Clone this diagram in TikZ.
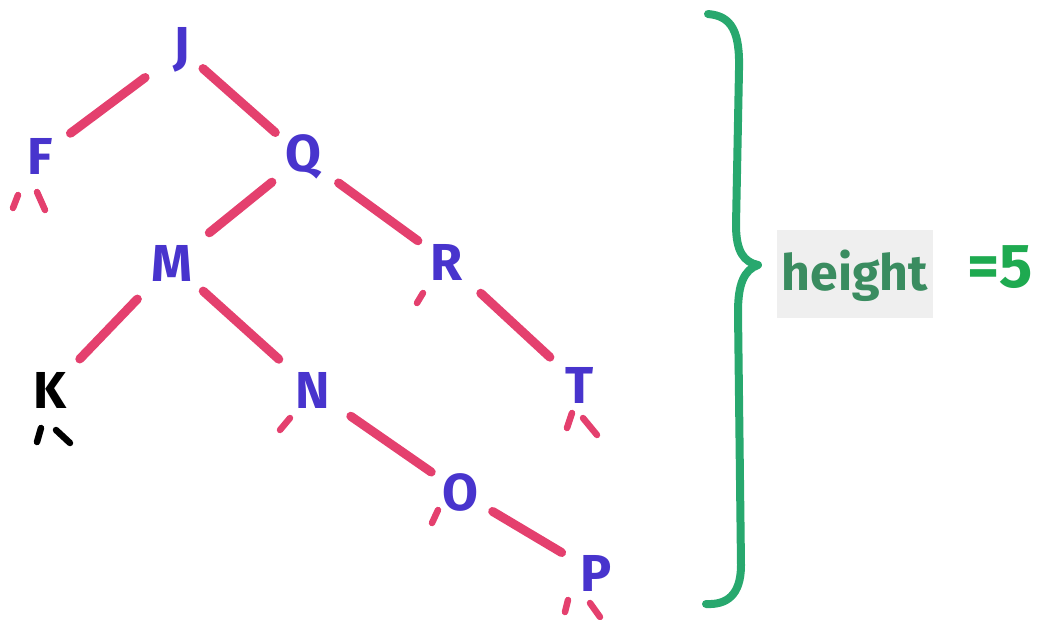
\documentclass[tikz,border=0pt]{standalone}
\usepackage{fontspec}
\setmainfont{Fira Sans}
\definecolor{nodeblue}{RGB}{72,52,205}
\definecolor{edgepink}{RGB}{228,64,110}
\definecolor{bracegreen}{RGB}{40,168,110}
\definecolor{htgreen}{RGB}{58,140,96}
\definecolor{eqgreen}{RGB}{30,170,80}
\definecolor{boxgray}{RGB}{239,239,239}
\tikzset{
  tnode/.style={font=\fontsize{52}{52}\selectfont\bfseries, text=nodeblue, inner sep=0pt},
  edge/.style={draw=edgepink, line width=9pt, line cap=round, shorten <=42pt, shorten >=40pt},
  stub/.style={draw=edgepink, line width=6.5pt, line cap=round},
  kstub/.style={draw=black, line width=6.5pt, line cap=round},
}
\begin{document}
\begin{tikzpicture}[x=1pt,y=-1pt]
\useasboundingbox (0,0) rectangle (1050,619);
% nodes
\node[tnode] (J) at (182,50) {J};
\node[tnode] (F) at (40,156) {F};
\node[tnode] (Q) at (303,157) {Q};
\node[tnode] (M) at (172,263) {M};
\node[tnode] (R) at (447,262) {R};
\node[tnode, text=black] (K) at (50,390) {K};
\node[tnode] (N) at (313,390) {N};
\node[tnode] (T) at (580,385) {T};
\node[tnode] (O) at (460,492) {O};
\node[tnode] (P) at (596,573) {P};
% edges
\draw[edge, shorten <=46pt, shorten >=38pt] (J.center) -- (F.center);
\draw[edge, shorten <=28pt, shorten >=37pt] (J.center) -- (Q.center);
\draw[edge, shorten <=40pt, shorten >=48pt] (Q.center) -- (M.center);
\draw[edge, shorten <=44pt, shorten >=36pt] (Q.center) -- (R.center);
\draw[edge, shorten <=50pt, shorten >=43pt] (M.center) -- (K.center);
\draw[edge, shorten <=42pt, shorten >=46pt] (M.center) -- (N.center);
\draw[edge, shorten <=46pt, shorten >=35pt] (N.center) -- (O.center);
\draw[edge, shorten <=46pt, shorten >=41pt] (R.center) -- (T.center);
\draw[edge, shorten <=38pt, shorten >=40pt] (O.center) -- (P.center);
% null-child stubs
\draw[stub] ([shift={(-22,39)}]F.center) -- ([shift={(-27,52)}]F.center);
\draw[stub] ([shift={(-3,36)}]F.center) -- ([shift={(5,54)}]F.center);
\draw[kstub] ([shift={(-9,38)}]K.center) -- ([shift={(-13,52)}]K.center);
\draw[kstub] ([shift={(6,40)}]K.center) -- ([shift={(20,53)}]K.center);
\draw[stub] ([shift={(-23,28)}]N.center) -- ([shift={(-33,40)}]N.center);
\draw[stub] ([shift={(-24,31)}]R.center) -- ([shift={(-30,41)}]R.center);
\draw[stub] ([shift={(-8,28)}]T.center) -- ([shift={(-13,43)}]T.center);
\draw[stub] ([shift={(3,33)}]T.center) -- ([shift={(17,50)}]T.center);
\draw[stub] ([shift={(-22,18)}]O.center) -- ([shift={(-28,31)}]O.center);
\draw[stub] ([shift={(-28,27)}]P.center) -- ([shift={(-31,39)}]P.center);
\draw[stub] ([shift={(-6,30)}]P.center) -- ([shift={(4,44)}]P.center);
% brace
\draw[bracegreen, line width=8pt, line cap=round, line join=round]
  (708,14) .. controls (732,16) and (740,32) .. (739,70)
  -- (736,225) .. controls (736,252) and (744,262) .. (758,265)
  .. controls (744,270) and (738,284) .. (738,312)
  -- (741,565) .. controls (741,596) and (726,605) .. (706,604);
% label
\node[fill=boxgray, minimum width=156pt, minimum height=88pt, inner sep=0pt] (box) at (855,274) {};
\node[font=\fontsize{50}{50}\selectfont\bfseries, text=htgreen, anchor=base] (ht) at (855,290) {height};
\node[font=\fontsize{62}{62}\selectfont\bfseries, text=eqgreen, anchor=base] (eq) at (1000,287) {=5};
\end{tikzpicture}
\end{document}
